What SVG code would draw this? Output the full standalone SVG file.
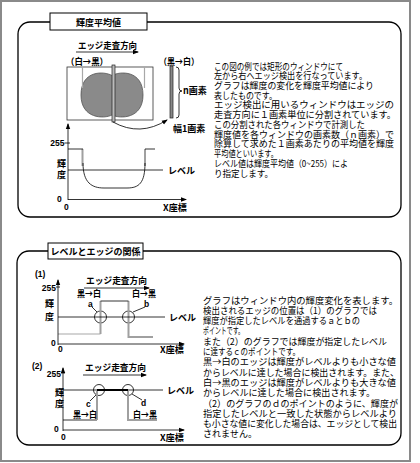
<svg xmlns="http://www.w3.org/2000/svg" width="420" height="463" viewBox="0 0 420 463">
<style>
.box{fill:none;stroke:#000;stroke-width:1.3}
.ttl{fill:#fff;stroke:#000;stroke-width:1}
.t{font-family:"Noto Sans CJK JP","Noto Sans CJK SC",sans-serif;font-size:9.2px;fill:#000}
.b{font-family:"Noto Sans CJK JP","Noto Sans CJK SC",sans-serif;font-size:9px;font-weight:bold;fill:#000}
.s{font-family:"Liberation Sans",Arial,sans-serif;font-size:8.5px;font-weight:bold;fill:#000}
.ln{stroke:#000;stroke-width:0.8;fill:none}
.gr{stroke:#a0a0a0;stroke-width:2;fill:none}
.gt{stroke:#a8a8a8;stroke-width:1.2;fill:none}
.ci{stroke:#000;stroke-width:0.8;fill:none}
</style>
<defs>
<marker id="ah" viewBox="0 0 6 6" refX="5" refY="3" markerWidth="6" markerHeight="6" orient="auto" markerUnits="userSpaceOnUse"><path d="M0,0.8 L6,3 L0,5.2 Z" fill="#000"/></marker>
</defs>
<rect x="1" y="1" width="409" height="460" fill="#fff" stroke="#8a8a8a" stroke-width="2"/>

<g id="section1">
<rect class="box" x="18" y="22" width="383" height="195" rx="12"/>
<g id="title1"><rect class="ttl" x="50" y="13" width="97" height="17"/><text class="b" x="98.5" y="25.5" text-anchor="middle" font-size="9.5">輝度平均値</text></g>
</g>

<g id="window-diagram">
<text class="b" x="78" y="48.5" textLength="59" lengthAdjust="spacingAndGlyphs">エッジ走査方向</text>
<text class="b" x="66" y="65" textLength="42" lengthAdjust="spacingAndGlyphs">（白→黒）</text>
<text class="b" x="159" y="65" textLength="40" lengthAdjust="spacingAndGlyphs">（黒→白）</text>
<rect x="67" y="67" width="86" height="53" fill="none" stroke="#333" stroke-width="0.8"/>
<path d="M112,75.5 C104,71 81,70 81,95 C81,119 104,119 112,115 C120,119 143,119 143,95 C143,70 120,71 112,75.5 Z" fill="#8a8a8a" stroke="#555" stroke-width="0.8"/>
<path class="gt" d="M82.5,67 L82.5,88 M144.5,67 L144.5,88"/>
<rect x="112" y="65" width="3" height="57" fill="#bbb" stroke="#222" stroke-width="0.7"/>
<rect x="170" y="66" width="3" height="52" fill="#888" stroke="#222" stroke-width="0.7"/>
<path class="ln" d="M176,67 Q179,67 179,70 L179,88 Q179,91 182,91 Q179,91 179,94 L179,115 Q179,118 176,118"/>
<text class="b" x="183" y="93.5">n画素</text>
<text class="b" x="173" y="132">幅1画素</text>
</g>

<g id="graph1">
<text class="s" x="64.5" y="146" text-anchor="end">255</text>
<text class="b" x="57" y="167">輝</text>
<text class="b" x="57" y="178">度</text>
<text class="s" x="57" y="201.5">0</text>
<text class="s" x="64" y="209.5">0</text>
<text class="b" x="163" y="211">X座標</text>
<path class="gr" d="M82.5,149 L82.5,166 M145,149 L145,166"/>
<path class="ln" d="M68,149 L83,149 M145,149 L155,149"/>
<path class="ln" d="M83,163 C83,183 92,188 104,188 L127,188 C139,188 145,183 145,163"/>
<path class="ln" d="M68,170 L163,170"/>
<text class="b" x="168" y="173.5">レベル</text>
</g>

<g id="text1">
<text class="t"><tspan x="214" y="69.5" textLength="129" lengthAdjust="spacingAndGlyphs">この図の例では矩形のウィンドウにて</tspan><tspan x="214" y="79.2" textLength="153" lengthAdjust="spacingAndGlyphs">左から右へエッジ検出を行なっています。</tspan><tspan x="214" y="89" textLength="160" lengthAdjust="spacingAndGlyphs">グラフは輝度の変化を輝度平均値により</tspan><tspan x="214" y="98.7" textLength="63" lengthAdjust="spacingAndGlyphs">表したものです。</tspan><tspan x="214" y="108.4" textLength="180" lengthAdjust="spacingAndGlyphs">エッジ検出に用いるウィンドウはエッジの</tspan><tspan x="214" y="118.2" textLength="182" lengthAdjust="spacingAndGlyphs">走査方向に１画素単位に分割されています。</tspan><tspan x="214" y="127.9" textLength="151" lengthAdjust="spacingAndGlyphs">この分割された各ウィンドウで計測した</tspan><tspan x="214" y="137.6" textLength="180" lengthAdjust="spacingAndGlyphs">輝度値を各ウィンドウの画素数（ｎ画素）で</tspan><tspan x="214" y="147.3" textLength="180" lengthAdjust="spacingAndGlyphs">除算して求めた１画素あたりの平均値を輝度</tspan><tspan x="214" y="157.1" textLength="64" lengthAdjust="spacingAndGlyphs">平均値といいます。</tspan><tspan x="214" y="166.8" textLength="134" lengthAdjust="spacingAndGlyphs">レベル値は輝度平均値（0~255）によ</tspan><tspan x="214" y="176.5" textLength="59" lengthAdjust="spacingAndGlyphs">り指定します。</tspan></text>
</g>

<g id="section2">
<rect class="box" x="17" y="251" width="384" height="194" rx="12"/>
<g id="title2"><rect class="ttl" x="48" y="243" width="95" height="16"/><text class="b" x="95.5" y="254.5" text-anchor="middle">レベルとエッジの関係</text></g>
</g>

<g id="graph2-1">
<text class="s" x="35" y="277">(1)</text>
<text class="s" x="56" y="290.5" text-anchor="end">255</text>
<text class="b" x="45" y="307">輝</text>
<text class="b" x="45" y="320">度</text>
<text class="b" x="86" y="283.5" textLength="61" lengthAdjust="spacingAndGlyphs">エッジ走査方向</text>
<text class="b" x="77" y="296.5" textLength="24" lengthAdjust="spacingAndGlyphs">黒→白</text>
<text class="b" x="132" y="296.5" textLength="24" lengthAdjust="spacingAndGlyphs">白→黒</text>
<text class="s" x="88" y="306.5">a</text>
<text class="s" x="144" y="306.5">b</text>
<circle class="ci" cx="100.5" cy="317" r="6"/>
<circle class="ci" cx="128.5" cy="317" r="6"/>
<path class="gt" d="M58,334 L100.5,334"/>
<path class="gr" d="M100.5,334 L100.5,301 M128.5,301 L128.5,337 L153,337"/>
<path class="ln" d="M100.5,301 L128.5,301"/>
<path class="ln" d="M58,317 L165,317"/>
<text class="b" x="169" y="321">レベル</text>
<text class="s" x="51" y="346">0</text>
<text class="s" x="58" y="352">0</text>
<text class="b" x="160" y="353">X座標</text>
</g>

<g id="graph2-2">
<text class="s" x="32" y="369">(2)</text>
<text class="s" x="61" y="376.5" text-anchor="end">255</text>
<text class="b" x="55" y="396">輝</text>
<text class="b" x="55" y="407">度</text>
<text class="b" x="85" y="371" textLength="61" lengthAdjust="spacingAndGlyphs">エッジ走査方向</text>
<circle class="ci" cx="99" cy="390" r="5.5"/>
<circle class="ci" cx="128" cy="390" r="5.5"/>
<path class="ln" d="M63,390 L163,390"/>
<path d="M97,390 L128,390" stroke="#000" stroke-width="2"/>
<path class="ln" d="M63,420 L97,420"/>
<path class="gr" d="M97,420 L97,391 M128,391 L128,420 L157,420"/>
<text class="b" x="167" y="394">レベル</text>
<text class="s" x="86" y="406.5">c</text>
<text class="s" x="141" y="406">d</text>
<text class="b" x="73" y="418" textLength="24" lengthAdjust="spacingAndGlyphs">黒→白</text>
<text class="b" x="133" y="418" textLength="24" lengthAdjust="spacingAndGlyphs">白→黒</text>
<text class="s" x="54" y="432">0</text>
<text class="s" x="61" y="440">0</text>
<text class="b" x="160" y="441">X座標</text>
</g>

<g id="text2">
<text class="t"><tspan x="203" y="303.5" textLength="195" lengthAdjust="spacingAndGlyphs">グラフはウィンドウ内の輝度変化を表します。</tspan><tspan x="203" y="313.8" textLength="174" lengthAdjust="spacingAndGlyphs">検出されるエッジの位置は（1）のグラフでは</tspan><tspan x="203" y="324.1" textLength="157" lengthAdjust="spacingAndGlyphs">輝度が指定したレベルを通過するａとｂの</tspan><tspan x="203" y="334.4" textLength="41" lengthAdjust="spacingAndGlyphs">ポイントです。</tspan><tspan x="203" y="344.7" textLength="184" lengthAdjust="spacingAndGlyphs">また（2）のグラフでは輝度が指定したレベル</tspan><tspan x="203" y="355" textLength="97" lengthAdjust="spacingAndGlyphs">に達するｃのポイントです。</tspan><tspan x="203" y="365.3" textLength="193" lengthAdjust="spacingAndGlyphs">黒→白のエッジは輝度がレベルよりも小さな値</tspan><tspan x="203" y="375.6" textLength="196" lengthAdjust="spacingAndGlyphs">からレベルに達した場合に検出されます。また、</tspan><tspan x="203" y="385.9" textLength="193" lengthAdjust="spacingAndGlyphs">白→黒のエッジは輝度がレベルよりも大きな値</tspan><tspan x="203" y="396.2" textLength="172" lengthAdjust="spacingAndGlyphs">からレベルに達した場合に検出されます。</tspan><tspan x="203" y="406.5" textLength="195" lengthAdjust="spacingAndGlyphs">（2）のグラフのｄのポイントのように、輝度が</tspan><tspan x="203" y="416.8" textLength="194" lengthAdjust="spacingAndGlyphs">指定したレベルと一致した状態からレベルより</tspan><tspan x="203" y="427.1" textLength="194" lengthAdjust="spacingAndGlyphs">も小さな値に変化した場合は、エッジとして検出</tspan><tspan x="203" y="437.4" textLength="54" lengthAdjust="spacingAndGlyphs">されません。</tspan></text>
</g>

<g id="connectors">
<path class="ln" d="M76,52 L138,52" marker-end="url(#ah)"/>
<path class="ln" d="M113,122 Q140,137 167,120" marker-end="url(#ah)"/>
<path class="ln" d="M68,200 L68,124" marker-end="url(#ah)"/>
<path class="ln" d="M68,199.5 L186,199.5" marker-end="url(#ah)"/>
<path class="ln" d="M64.5,143 L70,143"/>
<path class="ln" d="M84,288 L149,288" marker-end="url(#ah)"/>
<path class="ln" d="M58,345 L58,280" marker-end="url(#ah)"/>
<path class="ln" d="M58,344 L184,344" marker-end="url(#ah)"/>
<path class="ln" d="M56,287 L60,287"/>
<path class="ln" d="M92,307 L97,312"/>
<path class="ln" d="M145,307 L133,312"/>
<path class="ln" d="M83,375 L146,375" marker-end="url(#ah)"/>
<path class="ln" d="M63,431 L63,368" marker-end="url(#ah)"/>
<path class="ln" d="M63,430 L184,430" marker-end="url(#ah)"/>
<path class="ln" d="M61,373 L65,373"/>
<path class="ln" d="M90,401 L96,395"/>
<path class="ln" d="M142,400 L132,394"/>
</g>
</svg>
